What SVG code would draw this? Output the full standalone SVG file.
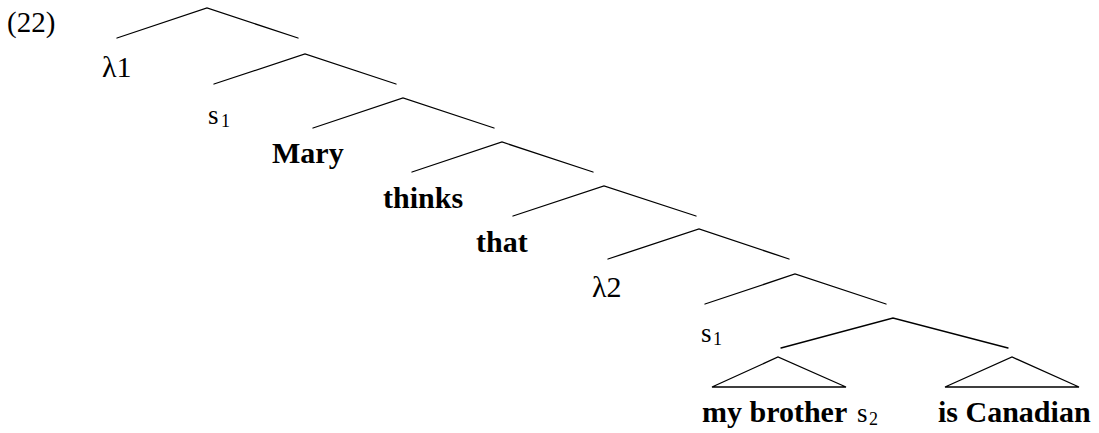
<svg xmlns="http://www.w3.org/2000/svg" width="1099" height="433" viewBox="0 0 1099 433">
<style>
.e{stroke:#000;stroke-width:1.3;fill:none;stroke-linecap:round}
.t{font-family:"Liberation Serif","Times New Roman",serif;fill:#000}
.b{font-weight:bold;font-size:30px}
.l{font-size:30px}
.s{font-size:27px}
.sub{font-size:18px}
</style>
<rect width="1099" height="433" fill="#fff"/>
<g id="connectors">
<polyline class="e" points="117,38 207,8 298,38"/>
<polyline class="e" points="214,84 305,54 396,84"/>
<polyline class="e" points="313,128 403,98 494,128"/>
<polyline class="e" points="412,172 502,142 593,172"/>
<polyline class="e" points="513,216 604,186 696,216"/>
<polyline class="e" points="608,259 699,229 789,259"/>
<polyline class="e" points="705,304 795,274 886,304"/>
<polyline class="e" points="781,348 893,318 1008,348"/>
<polygon class="e" points="712,387 778,357 846,387"/>
<polygon class="e" points="945,387 1012,357 1079,387"/>
</g>
<g id="label"><text class="t" x="7" y="32" font-size="29">(22)</text></g>
<g id="lambda1"><text class="t l" x="102" y="77">λ1</text></g>
<g id="s1a"><text class="t s" x="208" y="124">s</text><text class="t sub" x="221" y="127">1</text></g>
<g id="mary"><text class="t b" x="272" y="163">Mary</text></g>
<g id="thinks"><text class="t b" x="383" y="208">thinks</text></g>
<g id="that"><text class="t b" x="476" y="252">that</text></g>
<g id="lambda2"><text class="t l" x="592" y="297">λ2</text></g>
<g id="s1b"><text class="t s" x="701" y="342">s</text><text class="t sub" x="713" y="345">1</text></g>
<g id="mybrother"><text class="t b" x="702" y="422">my brother </text><text class="t s" x="857" y="422">s</text><text class="t sub" x="869" y="425">2</text></g>
<g id="iscanadian"><text class="t b" x="938" y="422">is Canadian</text></g>
</svg>
